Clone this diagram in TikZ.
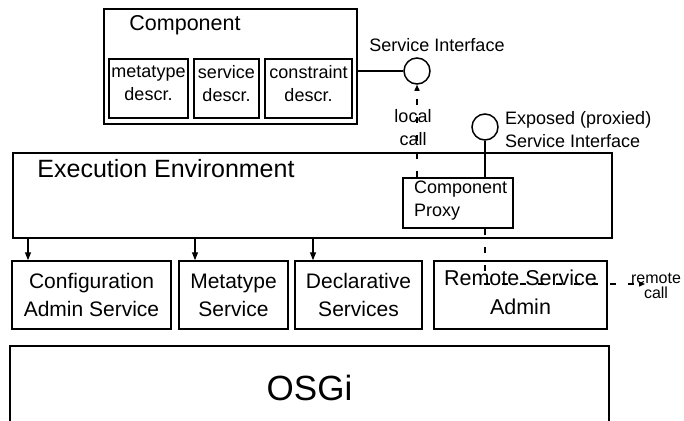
\documentclass[tikz,border=0pt]{standalone}
\usepackage{fontspec}
\setmainfont{Liberation Sans}
\usetikzlibrary{arrows.meta}
\begin{document}
\begin{tikzpicture}[x=1pt,y=-1pt,
  box/.style={draw, line width=1.5pt, inner sep=0pt, align=center},
  lbl/.style={inner sep=0pt, align=center},
  iface/.style={circle, draw, line width=1.5pt, minimum size=26pt, inner sep=0pt},
  wire/.style={line width=1.4pt},
  dashwire/.style={line width=1.3pt, dash pattern=on 6pt off 12pt},
  tip/.style={-{Triangle[length=8pt,width=6pt]}},
  smalltip/.style={-{Triangle[length=6pt,width=5pt]}},
  fA/.style={font=\fontsize{18}{23}\selectfont},
  fB/.style={font=\fontsize{21}{28}\selectfont},
  fC/.style={font=\fontsize{25}{30}\selectfont},
  fD/.style={font=\fontsize{16}{15}\selectfont},
]
\useasboundingbox (0,0) rectangle (684,420);
\clip (0,0) rectangle (684,420);

% Component with its descriptors
\node[box, minimum width=253pt, minimum height=115pt] (cmp) at (230.5,66.5) {};
\node[lbl, font=\fontsize{21.5}{26}\selectfont] (cmptitle) at (185,25) {Component};
\node[box, minimum width=79pt, minimum height=59pt] (mdesc) at (148.5,88.5) {};
\node[box, minimum width=65pt, minimum height=59pt] (sdesc) at (226.5,88.5) {};
\node[box, minimum width=87pt, minimum height=59pt] (cdesc) at (308.5,88.5) {};
\node[lbl, fA] (mdesctxt) at (148.5,83.5) {metatype\\descr.};
\node[lbl, fA] (sdesctxt) at (226.5,83.5) {service\\descr.};
\node[lbl, fA] (cdesctxt) at (308.5,83.5) {constraint\\descr.};

% Service interface of the component
\node[iface] (svc) at (417,71) {};
\node[lbl, fA] (svclbl) at (437,45) {Service Interface};
\draw[wire] (cmp.east |- svc.west) -- (svc.west);

% Execution environment with the component proxy
\node[box, minimum width=599pt, minimum height=85pt] (ee) at (312.5,195.5) {};
\node[lbl, fC] (eelbl) at (166,169) {Execution Environment};
\node[box, minimum width=110pt, minimum height=50pt] (proxy) at (458,203) {};
\node[lbl, fA, align=left, anchor=west] (proxylbl) at (414,201) {Component\\Proxy};

% Exposed (proxied) interface
\node[iface] (expo) at (485,127) {};
\node[lbl, fA, align=left, anchor=west] (expolbl) at (505,129.5) {Exposed (proxied)\\Service Interface};
\draw[wire] (expo.south) -- (expo.south |- proxy.north);

% Local call from the proxy to the component's interface
\draw[dashwire, smalltip] (svc.south |- proxy.north) -- (svc.south);
\node[lbl, fA] (locallbl) at (413,127.5) {local\\call};

% Services on top of OSGi
\node[box, fB, minimum width=159pt, minimum height=68pt] (cfg) at (91.5,295) {Configuration\\Admin Service};
\node[box, fB, minimum width=109pt, minimum height=68pt] (meta) at (233.5,295) {Metatype\\Service};
\node[box, fB, minimum width=127pt, minimum height=68pt] (decl) at (358.5,295) {Declarative\\Services};
\node[box, minimum width=173pt, minimum height=68pt] (rsa) at (520.5,295) {};
\node[lbl, font=\fontsize{21.5}{29}\selectfont] (rsalbl) at (520.5,292.5) {Remote Service\\Admin};

\coordinate (xa) at (28,0);
\coordinate (xb) at (195,0);
\coordinate (xc) at (313,0);
\draw[wire, tip] (ee.south -| xa) -- (cfg.north -| xa);
\draw[wire, tip] (ee.south -| xb) -- (meta.north -| xb);
\draw[wire, tip] (ee.south -| xc) -- (decl.north -| xc);

% Remote call through the remote service admin
\coordinate (rcall) at (645,284);
\draw[dashwire, smalltip] (expo.south |- proxy.south) -- (expo.south |- rcall) -- (rcall);
\node[lbl, fD] (rcalllbl) at (656,285.5) {remote\\call};

% OSGi framework
\node[box, font=\fontsize{35}{40}\selectfont, minimum width=599pt, minimum height=84pt] (osgi) at (309.5,388) {OSGi};
\end{tikzpicture}
\end{document}
